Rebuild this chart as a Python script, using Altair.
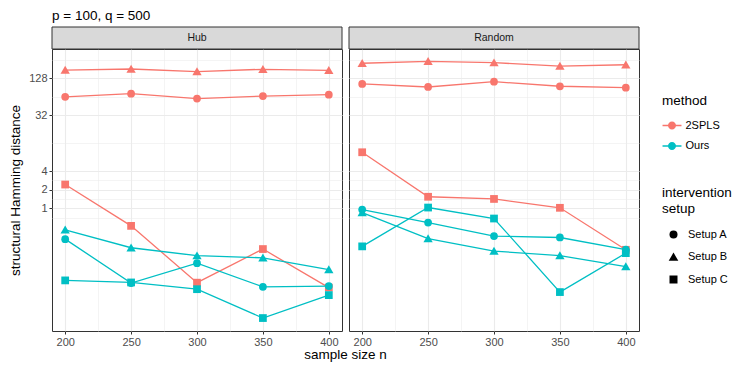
import json
import math
import altair as alt
import pandas as pd

# ---------------- data ----------------
n_values = [200, 250, 300, 350, 400]
panels = ["Hub", "Random"]
methods = ["2SPLS", "Ours"]
setups = ["Setup A", "Setup B", "Setup C"]

hub_2spls_a = [64.0, 72.0, 60.0, 66.0, 69.5]
hub_2spls_b = [174.0, 181.0, 164.0, 179.0, 172.0]
hub_2spls_c = [2.43, 0.52, 0.0625, 0.219, 0.052]
hub_ours_a = [0.317, 0.0617, 0.129, 0.0536, 0.055]
hub_ours_b = [0.449, 0.23, 0.171, 0.158, 0.102]
hub_ours_c = [0.068, 0.063, 0.049, 0.0167, 0.0393]

random_2spls_a = [103.5, 92.5, 112.7, 95.0, 90.2]
random_2spls_b = [224.0, 241.0, 229.0, 202.0, 212.0]
random_2spls_c = [8.1, 1.54, 1.42, 1.02, 0.213]
random_ours_a = [0.956, 0.589, 0.355, 0.337, 0.215]
random_ours_b = [0.855, 0.324, 0.203, 0.172, 0.114]
random_ours_c = [0.242, 1.03, 0.684, 0.044, 0.188]

y_major = [1, 2, 4, 32, 128]
x_major = [200, 250, 300, 350, 400]
y_domain = [0.0103, 381.4]
x_domain = [190, 410]

series = {
    ("Hub", "2SPLS", "Setup A"): hub_2spls_a,
    ("Hub", "2SPLS", "Setup B"): hub_2spls_b,
    ("Hub", "2SPLS", "Setup C"): hub_2spls_c,
    ("Hub", "Ours", "Setup A"): hub_ours_a,
    ("Hub", "Ours", "Setup B"): hub_ours_b,
    ("Hub", "Ours", "Setup C"): hub_ours_c,
    ("Random", "2SPLS", "Setup A"): random_2spls_a,
    ("Random", "2SPLS", "Setup B"): random_2spls_b,
    ("Random", "2SPLS", "Setup C"): random_2spls_c,
    ("Random", "Ours", "Setup A"): random_ours_a,
    ("Random", "Ours", "Setup B"): random_ours_b,
    ("Random", "Ours", "Setup C"): random_ours_c,
}
rows = []
for (p, m, s), vals in series.items():
    for n, v in zip(n_values, vals):
        rows.append({"panel": p, "method": m, "setup": s, "n": n, "value": v})
df = pd.DataFrame(rows)

# minor grid positions (ggplot-style midpoints on the transformed scale)
y_minor = [y_major[0] / math.sqrt(y_major[1] / y_major[0])]
y_minor += [math.sqrt(a * b) for a, b in zip(y_major[:-1], y_major[1:])]
y_minor += [y_major[-1] * math.sqrt(y_major[-1] / y_major[-2])]
y_ticks = sorted(y_major + y_minor)
x_minor = [(a + b) / 2 for a, b in zip(x_major[:-1], x_major[1:])]
x_ticks = sorted(x_major + x_minor)

y_test = "indexof(%s, datum.value) >= 0" % json.dumps(y_major)
x_test = "indexof(%s, datum.value) >= 0" % json.dumps(x_major)

FONT = "Liberation Sans"
PW, PH = 290, 282
STRIP = 22

colors = ["#F8766D", "#00BFC4"]
color_scale = alt.Scale(domain=methods, range=colors)
# same mapping, listed in reverse so that the (hidden) stroke legend stays separate
stroke_scale = alt.Scale(domain=methods[::-1], range=colors[::-1])
triangle = "M0,-1.1L1.2,0.95L-1.2,0.95Z"
shape_scale = alt.Scale(domain=setups, range=["circle", triangle, "square"])

legend_path = ("M-1.58,-0.12L1.58,-0.12L1.58,0.12L-1.58,0.12Z"
               "M0.67,0A0.67,0.67,0,1,1,-0.67,0A0.67,0.67,0,1,1,0.67,0Z")

color_legend = alt.Legend(
    title="method", orient="none", legendX=610, legendY=45,
    symbolType=legend_path, symbolSize=144, symbolStrokeWidth=0,
    symbolOpacity=1, labelOffset=7.5, rowPadding=9.5, titlePadding=12,
    symbolOffset=4,
)
shape_legend = alt.Legend(
    title=["intervention", "setup"], orient="none", legendX=610, legendY=137,
    symbolFillColor="black", symbolStrokeColor="black", symbolStrokeWidth=0,
    symbolSize=64, symbolOpacity=1, labelOffset=9, rowPadding=10.5,
    titlePadding=14, symbolOffset=6,
)


def make_axis_y(left):
    common = dict(
        values=y_ticks,
        gridColor="#EBEBEB",
        gridWidth={"condition": {"test": y_test, "value": 1.1}, "value": 0.55},
        domain=False,
        labelOverlap=False,
    )
    if left:
        return alt.Axis(
            title="structural Hamming distance",
            labelExpr="%s ? toString(datum.value) : ''" % y_test,
            tickColor={"condition": {"test": y_test, "value": "#333333"},
                       "value": "rgba(0,0,0,0)"},
            tickSize=3, labelPadding=2, titlePadding=6,
            **common,
        )
    return alt.Axis(title=None, labels=False, ticks=False, **common)


def make_axis_x():
    return alt.Axis(
        values=x_ticks,
        title=None,
        labelExpr="%s ? toString(datum.value) : ''" % x_test,
        tickColor={"condition": {"test": x_test, "value": "#333333"},
                   "value": "rgba(0,0,0,0)"},
        gridColor="#EBEBEB",
        gridWidth={"condition": {"test": x_test, "value": 1.1}, "value": 0.55},
        domain=False,
        tickSize=3, labelPadding=2, labelOverlap=False,
    )


def panel(name, left):
    base = alt.Chart(df).transform_filter(alt.datum.panel == name)
    x = alt.X("n:Q", scale=alt.Scale(domain=x_domain, nice=False, zero=False),
              axis=make_axis_x())
    y = alt.Y("value:Q", scale=alt.Scale(type="log", domain=y_domain, nice=False),
              axis=make_axis_y(left))
    lines = base.mark_line(strokeWidth=1.3).encode(
        x=x, y=y,
        stroke=alt.Stroke("method:N", scale=stroke_scale, legend=None),
        detail="setup:N",
    )
    points = base.mark_point(filled=True, opacity=1, strokeWidth=0, size=60).encode(
        x=x, y=y,
        color=alt.Color("method:N", scale=color_scale, legend=color_legend),
        shape=alt.Shape("setup:N", scale=shape_scale, legend=shape_legend),
    )
    lab = pd.DataFrame({"label": [name]})
    strip_bg = alt.Chart(lab).mark_rect(
        fill="#D9D9D9", stroke="#333333", strokeWidth=1, clip=False
    ).encode(x=alt.value(0), x2=alt.value(PW), y=alt.value(-STRIP), y2=alt.value(0))
    strip_txt = alt.Chart(lab).mark_text(
        font=FONT, fontSize=10.5, color="#1A1A1A", baseline="middle", align="center"
    ).encode(x=alt.value(PW / 2), y=alt.value(-STRIP / 2), text="label:N")
    layers = [lines, points, strip_bg, strip_txt]
    if left:
        xt = alt.Chart(pd.DataFrame({"t": ["sample size n"]})).mark_text(
            font=FONT, fontSize=13.5, color="black", baseline="middle", align="center"
        ).encode(x=alt.value(PW + 3.5), y=alt.value(PH + 24), text="t:N")
        layers.append(xt)
    ch = alt.layer(*layers).properties(width=PW, height=PH)
    if left:
        ch = ch.properties(title=alt.TitleParams(
            "p = 100, q = 500", anchor="start", frame="group", fontSize=13.5,
            fontWeight="normal", font=FONT, color="black", offset=4))
    return ch


chart = alt.hconcat(panel("Hub", True), panel("Random", False), spacing=7, bounds="flush")
chart = chart.properties(
    padding={"left": 0, "top": 0, "right": 5, "bottom": 2},
).configure_view(
    stroke="#333333", strokeWidth=1
).configure_axis(
    labelFont=FONT, labelFontSize=11, labelColor="#4D4D4D",
    titleFont=FONT, titleFontSize=13.5, titleColor="black", titleFontWeight="normal",
).configure_legend(
    labelFont=FONT, labelFontSize=11, labelColor="black",
    titleFont=FONT, titleFontSize=13.5, titleColor="black", titleFontWeight="normal",
    titleLineHeight=15.5,
)

chart.save("out.html", embed_options={"renderer": "svg", "actions": False})
